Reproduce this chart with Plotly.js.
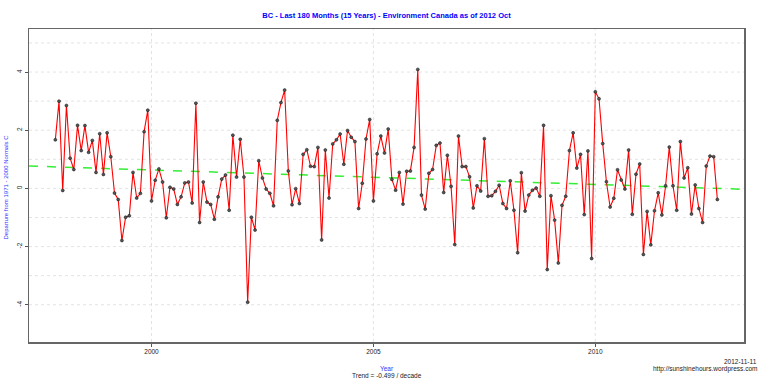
<!DOCTYPE html>
<html>
<head>
<meta charset="utf-8">
<script src="https://cdn.plot.ly/plotly-3.0.1.min.js"></script>
<style>html,body{margin:0;padding:0;background:#fff;}#chart{width:760px;height:379px;}</style>
</head>
<body>
<div id="chart"></div>
<script>
// Monthly departures (deg C), Nov 1997 .. Oct 2012 (180 months)
var startYear = 1997;
var startMonth = 11;
var departures = [
 1.67, 3.00, -0.07, 2.85, 1.04, 0.65, 2.17, 1.30, 2.16, 1.24,
 1.65, 0.55, 1.88, 0.48, 1.91, 1.09, -0.16, -0.38, -1.79, -0.99,
 -0.94, 0.55, -0.33, -0.17, 1.95, 2.69, -0.43, 0.28, 0.67, 0.22,
 -1.01, 0.04, -0.02, -0.55, -0.29, 0.19, 0.22, -0.50, 2.93, -1.17,
 0.22, -0.47, -0.55, -1.06, -0.29, 0.32, 0.46, -0.75, 1.83, 0.39,
 1.69, 0.39, -3.91, -0.99, -1.43, 0.95, 0.36, -0.02, -0.17, -0.60,
 2.34, 2.95, 3.38, 0.60, -0.56, -0.01, -0.52, 1.17, 1.33, 0.76,
 0.75, 1.41, -1.77, 1.32, -0.33, 1.53, 1.67, 1.87, 0.83, 1.99,
 1.76, 1.61, -0.69, 0.18, 1.70, 2.37, -0.43, 1.19, 1.80, 1.22,
 2.04, 0.31, -0.06, 0.55, -0.54, 0.59, 0.60, 1.41, 4.09, -0.23,
 -0.71, 0.52, 0.65, 1.48, 1.56, -0.14, 1.14, 0.07, -1.93, 1.80,
 0.75, 0.75, 0.40, -0.67, 0.09, -0.09, 1.71, -0.27, -0.25, -0.10,
 0.11, -0.52, -0.69, 0.26, -0.75, -2.21, 0.54, -0.78, -0.23, -0.06,
 0.01, -0.27, 2.17, -2.79, -0.25, -1.09, -2.56, -0.58, -0.27, 1.30,
 1.91, 0.70, 1.17, -0.90, 1.29, -2.41, 3.32, 3.08, 1.54, 0.23,
 -0.64, -0.34, 0.64, 0.29, -0.02, 1.32, -0.89, 0.49, 0.84, -2.27,
 -0.79, -1.94, -0.77, -0.15, -0.91, 0.09, 1.42, 0.09, -0.75, 1.61,
 0.36, 0.71, -0.88, 0.12, -0.69, -1.17, 0.77, 1.11, 1.09, -0.38
];
// Trend line endpoints (year, value): -0.499 / decade
var trendYears = [1997.24, 2013.35];
var trendValues = [0.77, -0.03];
var xTickVals = [2000, 2005, 2010];
var xTickText = ["2000", "2005", "2010"];
var yTickVals = [-4, -2, 0, 2, 4];
var yTickText = ["-4", "-2", "0", "2", "4"];
var yGridVals = [-4, -3, -2, -1, 0, 1, 2, 3, 4, 5];

var years = [];
for (var i = 0; i < departures.length; i++) {
  years.push(startYear + (startMonth - 1 + i) / 12);
}

var FONT = "Liberation Sans Narrow, Arial Narrow, Liberation Sans, Arial, sans-serif";

var shapes = [];
yGridVals.forEach(function (v) {
  shapes.push({type: 'line', xref: 'paper', x0: 0, x1: 1, yref: 'y', y0: v, y1: v,
    line: {color: '#dcdcdc', width: 0.8, dash: 'dot'}, layer: 'below'});
});
xTickVals.forEach(function (v) {
  shapes.push({type: 'line', yref: 'paper', y0: 0, y1: 1, xref: 'x', x0: v, x1: v,
    line: {color: '#dcdcdc', width: 0.8, dash: 'dot'}, layer: 'below'});
});

var traces = [
  {x: trendYears, y: trendValues, mode: 'lines', type: 'scatter',
   line: {color: '#33ee33', width: 1.5, dash: 'dash'}, hoverinfo: 'skip'},
  {x: years, y: departures, mode: 'lines+markers', type: 'scatter',
   line: {color: '#ff0000', width: 1.1},
   marker: {size: 3, color: '#555555', line: {color: '#111111', width: 0.5}}}
];

var layout = {
  width: 760, height: 379,
  margin: {l: 29, r: 15.5, t: 29, b: 37, pad: 0},
  paper_bgcolor: '#ffffff', plot_bgcolor: '#ffffff',
  showlegend: false,
  title: {text: '<b>BC - Last 180 Months (15 Years) - Environment Canada as of 2012 Oct</b>',
    font: {family: FONT, size: 7.5, color: '#0000ff'},
    x: 0.5, xref: 'paper', xanchor: 'center', y: 1 - 15 / 379, yanchor: 'middle'},
  xaxis: {range: [1997.24, 2013.35], showgrid: false, zeroline: false,
    tickvals: xTickVals, ticktext: xTickText, ticks: 'outside', ticklen: 3, tickcolor: '#555',
    tickfont: {family: FONT, size: 6.5, color: '#222'},
    showline: true, linecolor: '#666', linewidth: 1.5, mirror: true},
  yaxis: {range: [-5.28, 5.48], showgrid: false, zeroline: false,
    tickvals: yTickVals, ticktext: yTickText, ticks: 'outside', ticklen: 3, tickcolor: '#555',
    tickangle: -90, tickfont: {family: FONT, size: 6.5, color: '#222'},
    showline: true, linecolor: '#666', linewidth: 1.5, mirror: true},
  shapes: shapes,
  annotations: [
    {text: 'Departure from 1971 - 2000 Normals C', textangle: -90, xref: 'paper', yref: 'paper',
     x: 0, y: 0.5, xanchor: 'center', yanchor: 'middle', xshift: -24, yshift: -2, showarrow: false,
     font: {family: FONT, size: 6, color: '#3333ff'}},
    {text: 'Year', xref: 'paper', yref: 'paper', x: 0.5, y: 0, xanchor: 'center', yanchor: 'middle',
     yshift: -26, showarrow: false, font: {family: FONT, size: 6.5, color: '#3333ff'}},
    {text: 'Trend = -0.499 / decade', xref: 'paper', yref: 'paper', x: 0.5, y: 0, xanchor: 'center',
     yanchor: 'middle', yshift: -33, showarrow: false, font: {family: FONT, size: 6.5, color: '#222'}},
    {text: '2012-11-11', xref: 'paper', yref: 'paper', x: 1, y: 0, xanchor: 'right', yanchor: 'middle',
     xshift: 14.5, yshift: -19, showarrow: false, font: {family: FONT, size: 6.5, color: '#222'}},
    {text: 'http://sunshinehours.wordpress.com', xref: 'paper', yref: 'paper', x: 1, y: 0,
     xanchor: 'right', yanchor: 'middle', xshift: 14.5, yshift: -27, showarrow: false,
     font: {family: FONT, size: 6.5, color: '#222'}}
  ]
};

Plotly.newPlot('chart', traces, layout, {displayModeBar: false, staticPlot: true});
</script>
</body>
</html>
